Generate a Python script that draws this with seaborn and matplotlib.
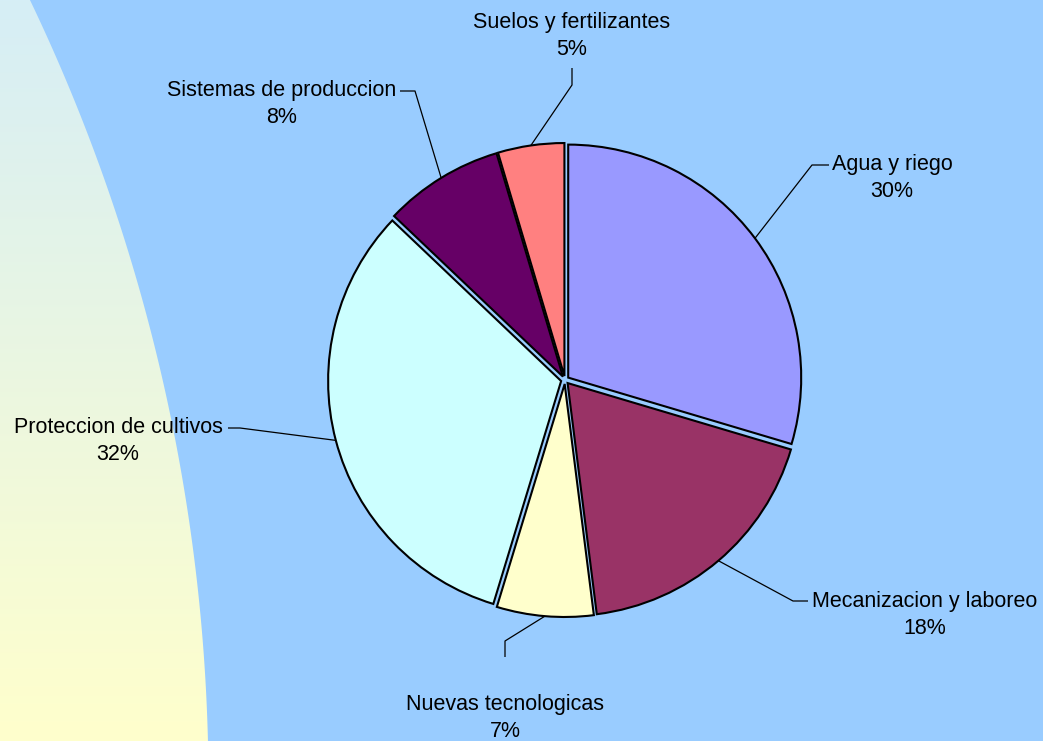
import numpy as np
import matplotlib
matplotlib.use("Agg")
import matplotlib.pyplot as plt
from matplotlib.patches import Polygon
import seaborn as sns

sns.set_theme(style="white")
plt.rcParams["font.family"] = ["Liberation Sans", "DejaVu Sans"]

# data
categories = ["Agua y riego", "Mecanizacion y laboreo", "Nuevas tecnologicas",
              "Proteccion de cultivos", "Sistemas de produccion", "Suelos y fertilizantes"]
shares = [29.6, 18.4, 6.7, 32.4, 8.3, 4.6]
colors = ["#9999FF", "#993366", "#FFFFCC", "#CCFFFF", "#660066", "#FF8080"]

W, H = 1043, 741
fig = plt.figure(figsize=(W / 100, H / 100), dpi=100)
fig.patch.set_facecolor("#99CCFF")
ax = fig.add_axes([0, 0, 1, 1])
ax.set_facecolor("#99CCFF")
ax.set_xlim(0, W)
ax.set_ylim(0, H)
ax.set_aspect("equal")
ax.axis("off")

# curved gradient band on the left (pixel y measured from top)
py = np.linspace(0, H, 300)
cx, cy, cr = -1610.0, 785.8, 1818.5
px = cx + np.sqrt(cr ** 2 - (py - cy) ** 2)
band = np.column_stack([np.r_[px, 0, 0], H - np.r_[py, H, 0]])
clip = Polygon(band, closed=True, facecolor="none", edgecolor="none")
ax.add_patch(clip)
top = np.array([214, 238, 246]) / 255
bot = np.array([255, 255, 204]) / 255
t = np.linspace(0, 1, 256)[:, None, None]
grad = bot * (1 - t) + top * t
img = ax.imshow(grad, extent=(0, 260, 0, H), origin="lower", aspect="auto", zorder=0)
img.set_clip_path(clip)

# pie
center = (565, H - 380)
wedges, _ = ax.pie(shares, colors=colors, startangle=90, counterclock=False,
                   center=center, radius=233, explode=[4] * len(shares),
                   wedgeprops=dict(edgecolor="black", linewidth=1.5))
ax.set_xlim(0, W)
ax.set_ylim(0, H)

# label layout in pixel coords: text center, elbow, line end
layout = [
    ((892, 178), (812, 165), (829, 165)),
    ((925, 615), (793, 601), (808, 601)),
    ((505, 718), (505, 641), (505, 657)),
    ((118, 441), (240, 428), (228, 428)),
    ((282, 104), (415, 91), (400, 91)),
    ((572, 36), (572, 85), (572, 68)),
]

for w, name, val, (txt, elbow, end) in zip(wedges, categories, shares, layout):
    tm = np.deg2rad((w.theta1 + w.theta2) / 2)
    ax_, ay_ = w.center[0] + w.r * np.cos(tm), w.center[1] + w.r * np.sin(tm)
    ax.plot([ax_, elbow[0], end[0]], [ay_, H - elbow[1], H - end[1]],
            color="black", lw=0.9, solid_capstyle="butt")
    ax.text(txt[0], H - txt[1], f"{name}\n{val:.0f}%", ha="center", va="center",
            fontsize=15.5, linespacing=1.32, color="black")

fig.savefig("out.png", dpi=100, facecolor=fig.get_facecolor())
